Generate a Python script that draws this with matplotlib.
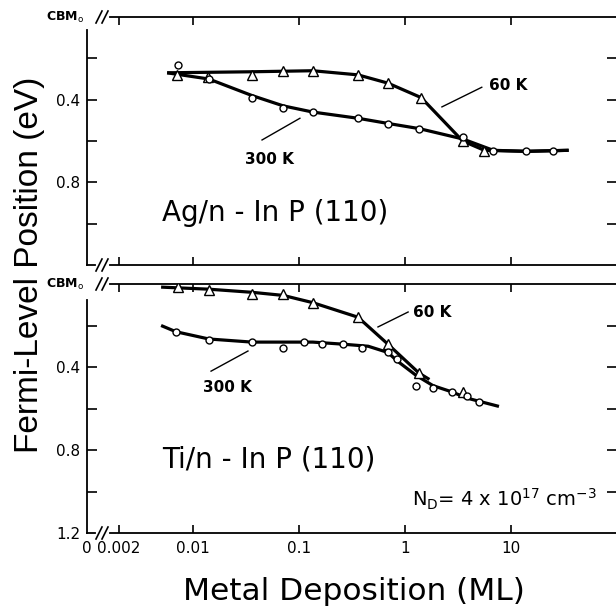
import numpy as np
import matplotlib
matplotlib.use("Agg")
import matplotlib.pyplot as plt

# Ag/n-InP(110) panel
ag_60k_x = [0.0071, 0.0139, 0.036, 0.071, 0.135, 0.36, 0.69, 1.42, 3.5, 5.6]
ag_60k_y = [0.28, 0.29, 0.28, 0.26, 0.26, 0.28, 0.32, 0.39, 0.60, 0.65]
ag_300k_x = [0.0072, 0.0141, 0.036, 0.071, 0.135, 0.36, 0.69, 1.36, 3.5, 6.8, 13.9, 24.9]
ag_300k_y = [0.23, 0.30, 0.39, 0.44, 0.46, 0.49, 0.52, 0.54, 0.58, 0.65, 0.65, 0.65]
# hand-drawn curves through the points
ag_60k_cx = [0.0057, 0.036, 0.135, 0.36, 0.69, 1.42, 3.5, 5.6, 13.9, 35]
ag_60k_cy = [0.27, 0.265, 0.26, 0.28, 0.32, 0.39, 0.60, 0.645, 0.65, 0.645]
ag_300k_cx = [0.0057, 0.0141, 0.036, 0.071, 0.135, 0.36, 0.69, 1.36, 3.5, 6.8, 13.9, 35]
ag_300k_cy = [0.27, 0.30, 0.38, 0.43, 0.46, 0.49, 0.515, 0.54, 0.59, 0.645, 0.65, 0.645]

# Ti/n-InP(110) panel
ti_60k_x = [0.0072, 0.0141, 0.036, 0.071, 0.135, 0.36, 0.69, 1.36, 3.5]
ti_60k_y = [0.015, 0.03, 0.05, 0.05, 0.09, 0.16, 0.29, 0.43, 0.52]
ti_300k_x = [0.0069, 0.0141, 0.036, 0.071, 0.111, 0.165, 0.26, 0.39, 0.69, 0.84, 1.27, 1.84, 2.77, 3.85, 5.0]
ti_300k_y = [0.23, 0.27, 0.28, 0.31, 0.28, 0.29, 0.29, 0.31, 0.33, 0.36, 0.49, 0.50, 0.52, 0.54, 0.57]
ti_60k_cx = [0.005, 0.0141, 0.036, 0.071, 0.135, 0.36, 0.69, 1.36, 1.7]
ti_60k_cy = [0.015, 0.025, 0.04, 0.055, 0.09, 0.16, 0.29, 0.43, 0.46]
ti_300k_cx = [0.005, 0.0069, 0.0141, 0.036, 0.071, 0.135, 0.26, 0.45, 0.69, 0.84, 1.27, 1.84, 2.77, 3.85, 7.7]
ti_300k_cy = [0.20, 0.23, 0.265, 0.28, 0.28, 0.28, 0.29, 0.30, 0.33, 0.37, 0.44, 0.49, 0.52, 0.55, 0.59]

xticks = [0.001, 0.002, 0.01, 0.1, 1, 10]
xticklabels = ["0", "0.002", "0.01", "0.1", "1", "10"]
yticks = [0, 0.2, 0.4, 0.6, 0.8, 1.0, 1.2]

plt.rcParams["font.family"] = ["DejaVu Sans"]

fig = plt.figure(figsize=(6.16, 6.11), dpi=100)
ax1 = fig.add_axes([87 / 616, 1 - 265 / 611, 530 / 616, 248 / 611])
ax2 = fig.add_axes([87 / 616, 1 - 533 / 611, 530 / 616, 249 / 611])


def setup(ax, bottom_labels, spine_top_y):
    ax.set_xscale("log")
    ax.set_xlim(0.001, 100)
    ax.set_ylim(1.2, 0)
    ax.spines["right"].set_visible(False)
    ax.spines["left"].set_bounds(spine_top_y, 1.2)
    ax.spines["top"].set_bounds(0.00165, 100)
    ax.spines["bottom"].set_bounds(0.00165, 100)
    for s in ax.spines.values():
        s.set_linewidth(1.3)
    ax.set_xticks(xticks)
    ax.xaxis.set_minor_locator(matplotlib.ticker.NullLocator())
    ax.set_xticklabels(xticklabels if bottom_labels else [""] * len(xticks))
    ax.set_yticks(yticks)
    labels = ["", "", "0.4", "", "0.8", "", "1.2" if bottom_labels else ""]
    ax.set_yticklabels(labels)
    ax.tick_params(axis="x", which="both", direction="in", top=True, bottom=True,
                   length=6, width=1.2, labelsize=11, pad=6)
    ax.tick_params(axis="y", direction="in", left=True, right=True,
                   length=7, width=1.2, labelsize=11, pad=5)
    ax.xaxis.get_major_ticks()[0].tick1line.set_visible(False)
    ax.xaxis.get_major_ticks()[0].tick2line.set_visible(False)
    for i in (0, len(yticks) - 1):
        ax.yaxis.get_major_ticks()[i].tick1line.set_visible(False)
        ax.yaxis.get_major_ticks()[i].tick2line.set_visible(False)
    ax.text(-0.005, 1.0, "CBM$_\\mathrm{o}$", transform=ax.transAxes, ha="right",
            va="center", fontsize=9, fontweight="bold")
    # axis-break marks "//"
    w = 530.0
    hh = ax.get_position().height * 611
    for y0 in (0.0, 1.0):
        for x0 in (96, 102):
            ax.plot([(x0 - 87) / w, (x0 + 6 - 87) / w], [y0 - 6 / hh, y0 + 6 / hh],
                    transform=ax.transAxes, color="black", lw=1.2, clip_on=False)
    ax.plot([0, (95 - 87) / w], [0, 0], transform=ax.transAxes, color="black",
            lw=1.3, clip_on=False)


setup(ax1, False, 0.063)
setup(ax2, True, 0.075)

line_kw = dict(color="black", lw=2.3, solid_capstyle="butt", zorder=2)
circ_kw = dict(ls="none", marker="o", ms=5, mfc="white", mec="black", mew=1.0, zorder=3)
tri_kw = dict(ls="none", marker="^", ms=6.5, mfc="white", mec="black", mew=1.0, zorder=3)

ax1.plot(ag_60k_cx, ag_60k_cy, **line_kw)
ax1.plot(ag_300k_cx, ag_300k_cy, **line_kw)
ax1.plot(ag_60k_x, ag_60k_y, **tri_kw)
ax1.plot(ag_300k_x, ag_300k_y, **circ_kw)

ax2.plot(ti_60k_cx, ti_60k_cy, **line_kw)
ax2.plot(ti_300k_cx, ti_300k_cy, **line_kw)
ax2.plot(ti_60k_x, ti_60k_y, **tri_kw)
ax2.plot(ti_300k_x, ti_300k_y, **circ_kw)

# labels on the curves
ax1.text(9.4, 0.33, "60 K", ha="center", va="center", fontsize=11, fontweight="bold")
ax1.plot([2.23, 5.3], [0.435, 0.34], color="black", lw=1.0)
ax1.text(0.053, 0.69, "300 K", ha="center", va="center", fontsize=11, fontweight="bold")
ax1.plot([0.0448, 0.102], [0.595, 0.49], color="black", lw=1.0)
ax1.text(0.0051, 0.95, "Ag/n - In P (110)", ha="left", va="center", fontsize=20)

ax2.text(1.8, 0.135, "60 K", ha="center", va="center", fontsize=11, fontweight="bold")
ax2.plot([0.556, 1.07], [0.207, 0.135], color="black", lw=1.0)
ax2.text(0.021, 0.50, "300 K", ha="center", va="center", fontsize=11, fontweight="bold")
ax2.plot([0.0148, 0.033], [0.42, 0.323], color="black", lw=1.0)
ax2.text(0.0051, 0.848, "Ti/n - In P (110)", ha="left", va="center", fontsize=20)
ax2.text(1.16, 1.04, "N$_\\mathrm{D}$= 4 x 10$^{17}$ cm$^{-3}$", ha="left", va="center",
         fontsize=14)

fig.text(30 / 616, 1 - 265 / 611, "Fermi-Level Position (eV)", rotation=90,
         ha="center", va="center", fontsize=24, family=["Liberation Sans"])
fig.text(354 / 616, 1 - 592 / 611, "Metal Deposition (ML)", ha="center", va="center",
         fontsize=22.5)

fig.savefig("out.png", dpi=100)
